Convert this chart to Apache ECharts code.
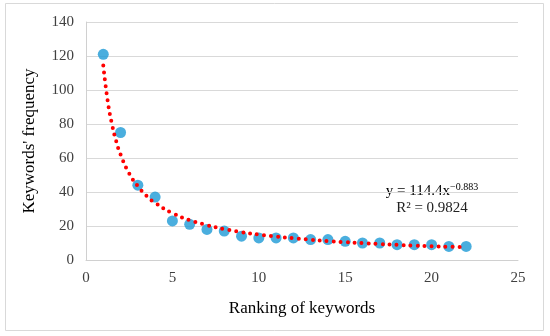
<!DOCTYPE html>
<html><head><meta charset="utf-8">
<script src="https://cdn.jsdelivr.net/npm/echarts@6/dist/echarts.min.js"></script>
<style>html,body{margin:0;padding:0;background:#fff}#c{width:550px;height:336px}</style>
</head><body><div id="c"></div>
<script>
var ranks = [1,2,3,4,5,6,7,8,9,10,11,12,13,14,15,16,17,18,19,20,21,22];
var freqs = [121,75,44,37,23,21,18,17,14,13,13,13,12,12,11,10,10,9,9,9,8,8];
var trendX = [1,1.25,1.5,1.75,2,2.5,3,3.5,4,5,6,7,8,9,10,11,12,13,14,15,16,17,18,19,20,21,22];
var trendY = [114.4,93.9,80.0,69.8,62.0,50.9,43.4,37.8,33.6,27.6,23.5,20.5,18.2,16.4,15.0,13.8,12.8,11.9,11.1,10.5,9.9,9.4,8.9,8.5,8.1,7.8,7.5];
var xTicks = [0,5,10,15,20,25];
var yTicks = [0,20,40,60,80,100,120,140];
var serif = '"Liberation Serif","DejaVu Serif",serif';

var chart = echarts.init(document.getElementById('c'));
chart.setOption({
  animation:false,
  backgroundColor:'#fff',
  grid:{left:86,right:32,top:22,bottom:76},
  xAxis:{type:'value',min:xTicks[0],max:xTicks[xTicks.length-1],interval:5,
    name:'Ranking of keywords',nameLocation:'middle',nameGap:40,
    nameTextStyle:{fontFamily:serif,fontSize:17,color:'#000'},
    axisLine:{show:true,lineStyle:{color:'#d0d0d0',width:1}},axisTick:{show:false},
    axisLabel:{fontFamily:serif,fontSize:15,color:'#404040',margin:11},
    splitLine:{show:false}},
  yAxis:{type:'value',min:yTicks[0],max:yTicks[yTicks.length-1],interval:20,
    name:"Keywords' frequency",nameLocation:'middle',nameGap:48,
    nameTextStyle:{fontFamily:serif,fontSize:17,color:'#000'},
    axisLine:{show:true,lineStyle:{color:'#d0d0d0',width:1}},axisTick:{show:false},
    axisLabel:{fontFamily:serif,fontSize:15,color:'#404040',margin:12},
    splitLine:{show:true,lineStyle:{color:'#d9d9d9',width:1}}},
  graphic:[
    {type:'rect',shape:{x:5.5,y:3.5,width:538,height:327},style:{fill:null,stroke:'#d9d9d9',lineWidth:1},z:-1},
    {type:'text',x:432,y:191,style:{
      text:'{a|y = 114.4x}{b|−0.883}',align:'center',verticalAlign:'middle',
      rich:{a:{fontFamily:serif,fontSize:15,color:'#222'},b:{fontFamily:serif,fontSize:10,color:'#222',verticalAlign:'top',padding:[0,0,8,0]}}}},
    {type:'text',x:432,y:208,style:{
      text:'R² = 0.9824',align:'center',verticalAlign:'middle',
      font:'15px '+serif,fill:'#222'}}
  ],
  series:[
    {type:'scatter',data:ranks.map(function(r,i){return [r,freqs[i]];}),
      symbolSize:11,itemStyle:{color:'#1d9ad6'},z:2},
    {type:'line',data:trendX.map(function(x,i){return [x,trendY[i]];}),
      smooth:true,showSymbol:false,symbol:'none',
      lineStyle:{color:'#ff0000',width:4,type:[0,7],cap:'round'},z:3}
  ]
});
</script></body></html>
